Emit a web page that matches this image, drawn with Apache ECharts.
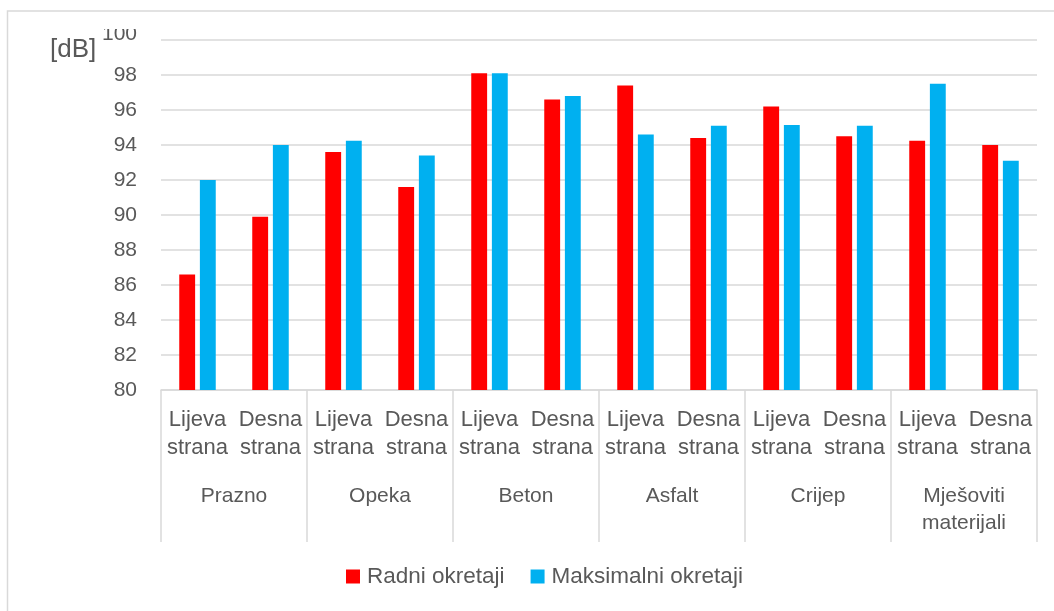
<!DOCTYPE html>
<html>
<head>
<meta charset="utf-8">
<script src="https://cdn.jsdelivr.net/npm/echarts@6/dist/echarts.min.js"></script>
<style>
    html, body { margin: 0; padding: 0; background: #fff; }
    #chart { width: 1054px; height: 611px; }
</style>
</head>
<body>
<div id="chart"></div>
<script>
    // data
    const sides = ['Lijeva\nstrana', 'Desna\nstrana'];
    const materials = ['Prazno', 'Opeka', 'Beton', 'Asfalt', 'Crijep', 'Mješoviti\nmaterijali'];
    const radni = [86.6, 89.9, 93.6, 91.6, 98.1, 96.6, 97.4, 94.4, 96.2, 94.5, 94.25, 94.0];
    const maksimalni = [92.0, 94.0, 94.25, 93.4, 98.1, 96.8, 94.6, 95.1, 95.15, 95.1, 97.5, 93.1];
    const seriesNames = ['Radni okretaji', 'Maksimalni okretaji'];
    const yMin = 80, yMax = 100, yStep = 2;

    const font = "'Liberation Sans', Arial, sans-serif";
    const textColor = '#595959';
    const lineColor = '#d9d9d9';
    const innerCats = materials.flatMap(() => sides);

    const myChart = echarts.init(document.getElementById('chart'));
    const option = {
        animation: false,
        textStyle: { fontFamily: font },
        title: {
            text: '[dB]',
            left: 45,
            top: 32,
            textStyle: { fontSize: 26, fontWeight: 'normal', color: textColor, fontFamily: font }
        },
        legend: {
            data: seriesNames,
            bottom: 18,
            left: 341,
            icon: 'rect',
            itemWidth: 14,
            itemHeight: 14,
            itemGap: 26,
            textStyle: { fontSize: 22.5, color: textColor, fontFamily: font, padding: [0, 0, 0, 2] }
        },
        grid: { left: 161, right: 17, top: 40, bottom: 221, containLabel: false },
        xAxis: [
            {
                type: 'category',
                data: innerCats,
                position: 'bottom',
                axisLine: { lineStyle: { color: lineColor, width: 1.5 } },
                axisTick: { show: false },
                axisLabel: {
                    interval: 0, margin: 16, fontSize: 22, lineHeight: 28,
                    color: textColor, fontFamily: font
                },
                splitLine: { show: false }
            },
            {
                type: 'category',
                data: materials,
                position: 'bottom',
                axisLine: { show: false },
                axisTick: { show: true, length: 152, interval: 0, lineStyle: { color: lineColor, width: 1.5 } },
                axisLabel: {
                    interval: 0, margin: 93, fontSize: 21, lineHeight: 27,
                    color: textColor, fontFamily: font
                },
                splitLine: { show: false }
            }
        ],
        yAxis: {
            type: 'value',
            min: yMin,
            max: yMax,
            interval: yStep,
            axisLine: { show: false },
            axisTick: { show: false },
            splitLine: { lineStyle: { color: lineColor, width: 1.5 } },
            axisLabel: {
                margin: 24, fontSize: 21, color: textColor, fontFamily: font,
                formatter: function (v) { return v === yMax ? '{top|' + v + '}' : String(v); },
                rich: { top: { fontSize: 21, color: textColor, fontFamily: font, padding: [0, 0, 11, 0] } }
            }
        },
        series: [
            {
                name: seriesNames[0],
                type: 'bar',
                data: radni,
                itemStyle: { color: '#ff0000' },
                barGap: '30%',
                barCategoryGap: '50%'
            },
            {
                name: seriesNames[1],
                type: 'bar',
                data: maksimalni,
                itemStyle: { color: '#00b0f0' },
                barGap: '30%',
                barCategoryGap: '50%'
            }
        ],
        graphic: [
            {
                type: 'rect',
                shape: { x: 7.5, y: 11, width: 1200, height: 800 },
                style: { fill: 'none', stroke: lineColor, lineWidth: 1.5 },
                silent: true,
                z: -1
            },
            {
                // the [dB] box hides the top of the 100 label
                type: 'rect',
                shape: { x: 100, y: 13, width: 55, height: 16 },
                style: { fill: '#fff' },
                silent: true,
                z: 100
            }
        ]
    };
    myChart.setOption(option);
</script>
</body>
</html>
